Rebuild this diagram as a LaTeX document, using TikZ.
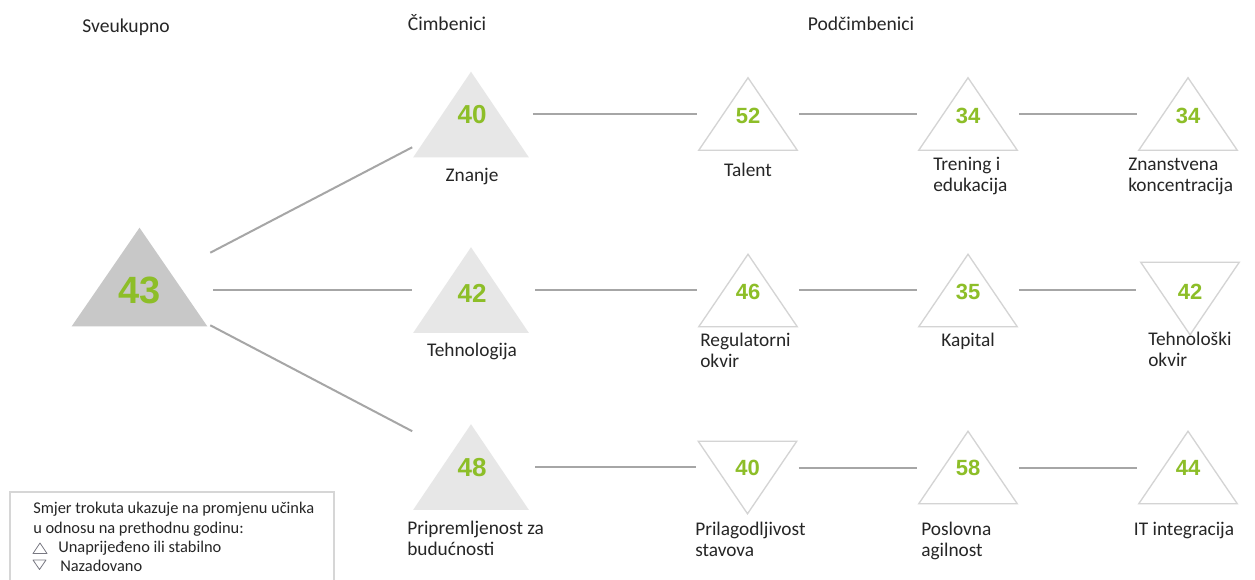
\documentclass[tikz,border=0pt]{standalone}
\usepackage{fontspec}
\setmainfont{Carlito}
\newfontfamily\numfont{Liberation Sans}
\usetikzlibrary{calc}
\definecolor{numgreen}{RGB}{141,190,40}
\definecolor{biggray}{RGB}{200,200,200}
\definecolor{facgray}{RGB}{231,231,231}
\definecolor{subgray}{RGB}{212,212,212}
\definecolor{linegray}{RGB}{166,166,166}
\definecolor{txt}{RGB}{38,38,38}
\definecolor{boxgray}{RGB}{214,214,214}
\definecolor{symgray}{RGB}{120,120,130}
\begin{document}
\begin{tikzpicture}[x=0.75pt,y=-0.75pt,
  tribox/.style 2 args={inner sep=0pt, minimum width=#1, minimum height=#2},
  bigbox/.style={tribox={101.25pt}{73.5pt}},
  facbox/.style={tribox={86.25pt}{63.75pt}},
  subbox/.style={tribox={73.5pt}{54pt}},
  bignum/.style={font=\numfont\bfseries\fontsize{28.5}{28.5}\selectfont, text=numgreen, inner sep=0pt},
  facnum/.style={font=\numfont\bfseries\fontsize{19.5}{19.5}\selectfont, text=numgreen, inner sep=0pt},
  subnum/.style={font=\numfont\bfseries\fontsize{16.5}{16.5}\selectfont, text=numgreen, inner sep=0pt},
  lab/.style={font=\fontsize{14.5}{15.75}\selectfont, text=txt, inner sep=0pt, align=left},
  head/.style={font=\fontsize{14.7}{16}\selectfont, text=txt, inner sep=0pt},
  leg/.style={font=\fontsize{12.3}{14}\selectfont, text=txt, inner sep=0pt, anchor=base west},
  link/.style={draw=linegray, line width=1.5pt},
  subtri/.style={draw=subgray, line width=1pt, fill=white}
]
\useasboundingbox (0,0) rectangle (1255,580);
\fill[white] (0,0) rectangle (1255,580);

% headers
\node[head, anchor=base] (h1) at (126,33) {Sveukupno};
\node[head, anchor=base] (h2) at (447,31) {Čimbenici};
\node[head, anchor=base] (h3) at (861,31) {Podčimbenici};

% triangle boxes
\node[bigbox] (sve) at (139.5,277) {};
\node[facbox] (znanje) at (471,114.5) {};
\node[facbox] (tehno) at (471,290) {};
\node[facbox] (prip) at (471,467) {};
\node[subbox] (talent) at (748,114) {};
\node[subbox] (trening) at (968,114) {};
\node[subbox] (znan) at (1188,114) {};
\node[subbox] (reg) at (748,290.5) {};
\node[subbox] (kap) at (968,290.5) {};
\node[subbox] (tok) at (1190,298.5) {};
\node[subbox] (pril) at (747.5,477.5) {};
\node[subbox] (posl) at (968,467.5) {};
\node[subbox] (it) at (1188,467.5) {};

% triangles
\fill[biggray] (sve.south west) -- (sve.north) -- (sve.south east) -- cycle;
\foreach \n in {znanje,tehno,prip}
  \fill[facgray] (\n.south west) -- (\n.north) -- (\n.south east) -- cycle;
\foreach \n in {talent,trening,znan,reg,kap,posl,it}
  \draw[subtri] (\n.south west) -- (\n.north) -- (\n.south east) -- cycle;
\foreach \n in {tok,pril}
  \draw[subtri] (\n.north west) -- (\n.south) -- (\n.north east) -- cycle;

% connectors
\draw[link] ([shift={(3,25)}]sve.north east) -- ([shift={(-1,-10)}]znanje.south west);
\draw[link, shorten <=4.5pt, shorten >=0.75pt] (sve.east |- tehno.west) -- (tehno.west);
\draw[link] ([shift={(3,-1)}]sve.south east) -- ([shift={(-1,7)}]prip.north west);

\draw[link, shorten <=3pt, shorten >=1.5pt] (znanje.east) -- (znanje.east -| talent.west);
\draw[link, shorten <=1.5pt, shorten >=1.5pt] (talent.east) -- (talent.east -| trening.west);
\draw[link, shorten <=1.5pt, shorten >=1.5pt] (trening.east) -- (trening.east -| znan.west);

\draw[link, shorten <=5pt, shorten >=1.5pt] (tehno.east) -- (tehno.east -| reg.west);
\draw[link, shorten <=1.5pt, shorten >=1.5pt] (reg.east) -- (reg.east -| kap.west);
\draw[link, shorten <=1.5pt, shorten >=3.5pt] (kap.east) -- (kap.east -| tok.west);

\draw[link, shorten <=5pt, shorten >=1.5pt] (prip.east) -- (prip.east -| pril.west);
\draw[link, shorten <=1.5pt, shorten >=1.5pt] (pril.east |- posl.west) -- (posl.west);
\draw[link, shorten <=1.5pt, shorten >=1.5pt] (posl.east) -- (posl.east -| it.west);

% numbers
\node[bignum] (sve-n) at ($(sve)+(0.5,13)$) {43};
\node[facnum] (znanje-n) at ($(znanje)+(1,0.5)$) {40};
\node[facnum] (tehno-n) at ($(tehno)+(1,3)$) {42};
\node[facnum] (prip-n) at ($(prip)+(1,1)$) {48};
\node[subnum] (talent-n) at ($(talent)+(0,2)$) {52};
\node[subnum] (trening-n) at ($(trening)+(0,2)$) {34};
\node[subnum] (znan-n) at ($(znan)+(0,2)$) {34};
\node[subnum] (reg-n) at ($(reg)+(0,1.5)$) {46};
\node[subnum] (kap-n) at ($(kap)+(0,1.5)$) {35};
\node[subnum] (tok-n) at ($(tok)+(0,-6.5)$) {42};
\node[subnum] (pril-n) at ($(pril)+(0,-9.5)$) {40};
\node[subnum] (posl-n) at ($(posl)+(0,0.5)$) {58};
\node[subnum] (it-n) at ($(it)+(0,0.5)$) {44};

% labels (base anchor of a two-line label = baseline of its last line)
\node[lab, anchor=base] (l-znanje) at (472,182) {Znanje};
\node[lab, anchor=base] (l-tehno) at (472,357) {Tehnologija};
\node[lab, anchor=base west] (l-prip) at (407,555) {Pripremljenost za\\budućnosti};
\node[lab, anchor=base] (l-talent) at (748,177) {Talent};
\node[lab, anchor=base west] (l-trening) at (933,192) {Trening i\\edukacija};
\node[lab, anchor=base west] (l-znan) at (1128,192) {Znanstvena\\koncentracija};
\node[lab, anchor=base west] (l-reg) at (700,368) {Regulatorni\\okvir};
\node[lab, anchor=base] (l-kap) at (968,347) {Kapital};
\node[lab, anchor=base west] (l-tok) at (1148,367) {Tehnološki\\okvir};
\node[lab, anchor=base west] (l-pril) at (695,556) {Prilagodljivost\\stavova};
\node[lab, anchor=base west] (l-posl) at (921,556) {Poslovna\\agilnost};
\node[lab, anchor=base] (l-it) at (1184,535) {IT integracija};

% legend
\draw[boxgray, line width=0.8pt] (10,592) -- (10,492) -- (334,492) -- (334,592);
\node[leg] (lg1) at (33,513) {Smjer trokuta ukazuje na promjenu učinka};
\node[leg] (lg2) at (33,533) {u odnosu na prethodnu godinu:};
\node[leg] (lg3) at (58,552) {Unaprijeđeno ili stabilno};
\node[leg] (lg4) at (60,571) {Nazadovano};
\draw[symgray, line width=0.6pt, line join=round] (33,553.5) -- (40,543) -- (47,553.5) -- cycle;
\draw[symgray, line width=0.6pt, line join=round] (33,560) -- (46,560) -- (39.5,569.5) -- cycle;
\end{tikzpicture}
\end{document}
